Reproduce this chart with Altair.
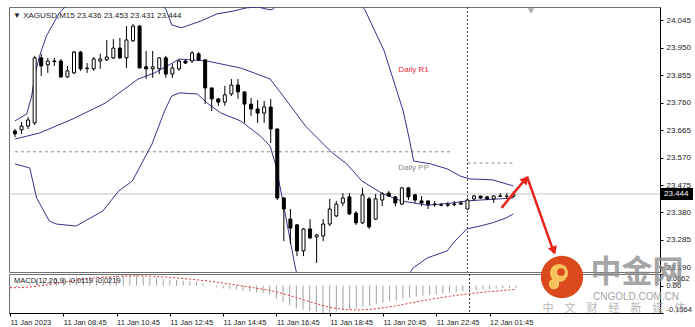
import altair as alt
import pandas as pd

# ---------------- data ----------------
opens  = [23.662,23.666,23.679,23.690,23.915,23.891,23.904,23.904,23.849,23.863,
          23.935,23.880,23.877,23.904,23.908,23.915,23.949,23.915,23.974,24.025,
          23.884,23.877,23.877,23.915,23.859,23.877,23.904,23.904,23.929,23.908,
          23.811,23.773,23.762,23.790,23.821,23.797,23.755,23.738,23.724,23.745,
          23.669,23.430,23.357,23.337,23.247,23.323,23.295,23.299,23.340,23.368,
          23.413,23.434,23.378,23.344,23.427,23.357,23.423,23.447,23.434,23.409,
          23.465,23.441,23.420,23.420,23.409,23.406,23.405,23.407,23.413,23.392,
          23.427,23.437,23.434,23.427,23.437,23.436,23.436]
highs  = [23.669,23.693,23.710,23.922,23.929,23.915,23.915,23.911,23.887,23.939,
          23.939,23.897,23.918,23.929,23.977,23.980,23.984,24.025,24.032,24.029,
          23.939,23.939,23.918,23.922,23.894,23.911,23.908,23.939,23.935,23.911,
          23.811,23.776,23.818,23.842,23.842,23.800,23.776,23.769,23.766,23.773,
          23.669,23.434,23.392,23.340,23.326,23.357,23.306,23.357,23.427,23.420,
          23.447,23.447,23.385,23.465,23.434,23.444,23.451,23.454,23.437,23.468,
          23.468,23.444,23.437,23.420,23.420,23.413,23.416,23.420,23.420,23.430,
          23.441,23.437,23.437,23.440,23.447,23.447,23.453]
lows   = [23.641,23.652,23.669,23.683,23.852,23.863,23.887,23.846,23.846,23.859,
          23.870,23.863,23.870,23.877,23.904,23.911,23.911,23.880,23.970,23.880,
          23.842,23.846,23.859,23.846,23.846,23.870,23.894,23.897,23.904,23.755,
          23.731,23.749,23.749,23.783,23.773,23.690,23.714,23.690,23.690,23.620,
          23.423,23.281,23.271,23.229,23.229,23.288,23.205,23.281,23.333,23.364,
          23.402,23.371,23.337,23.340,23.323,23.354,23.402,23.434,23.402,23.406,
          23.423,23.413,23.402,23.392,23.399,23.402,23.399,23.402,23.406,23.389,
          23.420,23.427,23.423,23.413,23.434,23.427,23.431]
closes = [23.652,23.679,23.700,23.915,23.887,23.904,23.902,23.849,23.870,23.935,
          23.877,23.878,23.911,23.911,23.918,23.949,23.915,23.977,24.025,23.880,
          23.877,23.884,23.915,23.859,23.880,23.904,23.897,23.932,23.908,23.811,
          23.773,23.762,23.787,23.821,23.797,23.755,23.738,23.724,23.745,23.669,
          23.430,23.392,23.326,23.247,23.323,23.292,23.302,23.340,23.392,23.409,
          23.430,23.375,23.344,23.441,23.330,23.427,23.444,23.437,23.413,23.465,
          23.434,23.423,23.413,23.408,23.408,23.405,23.407,23.409,23.409,23.423,
          23.437,23.430,23.427,23.437,23.436,23.436,23.444]

# Bollinger bands (bar index, price) vertices
upper_idx = [0,1.8,2.55,3.0,3.75,4.8,6.75,10,15.3,19.8,23.0,23.9,25.4,28.4,30.8,33.3,35.3,37,38.9,39.4,
             44,48.4,53.3,56.3,59.2,60.1,60.8,63.4,65.9,67.9,69.4,72.8,74.9,76]
upper_val = [23.697,23.721,23.783,23.852,23.922,23.991,24.070,24.147,24.181,24.147,24.084,24.029,24.019,
             24.043,24.067,24.077,24.088,24.091,24.081,24.084,24.216,24.181,24.084,23.939,23.731,23.638,
             23.558,23.548,23.531,23.506,23.496,23.493,23.479,23.472]
mid_idx = [0,3.75,8.86,13.8,18.8,21.3,25.1,29.3,34.4,38.9,40.9,44.3,48.4,50.6,52.9,55.9,58.9,60.8,
           62.9,66.8,68.9,70.9,76]
mid_val = [23.634,23.655,23.704,23.759,23.842,23.863,23.911,23.904,23.880,23.842,23.783,23.679,23.586,
           23.548,23.489,23.447,23.420,23.413,23.405,23.413,23.420,23.423,23.430]
lower_idx = [0,2.25,3.3,5.25,6.3,9.3,13.4,15.8,17.9,20.9,22.8,23.9,25.1,27.8,29.3,31.4,34.4,37.4,38.9,
             39.8,40.9,42.7,43.9,48.4,54.4,58.9,60.7,62.9,65.9,67.1,68.9,70.9,72.8,74.9,76]
lower_val = [23.548,23.534,23.430,23.350,23.340,23.333,23.385,23.454,23.489,23.617,23.731,23.783,23.794,
             23.790,23.759,23.724,23.697,23.645,23.610,23.541,23.413,23.195,23.074,22.970,23.004,23.126,
             23.188,23.223,23.247,23.281,23.323,23.333,23.344,23.361,23.375]

# MACD main (histogram) and signal, read per bar
macd_hist = [-0.010,-0.008,-0.004,0.014,0.026,0.034,0.040,0.041,0.042,0.047,
             0.048,0.048,0.050,0.051,0.052,0.055,0.056,0.059,0.0662,0.058,
             0.052,0.047,0.044,0.038,0.034,0.031,0.027,0.026,0.023,0.012,
             0.000,-0.010,-0.016,-0.018,-0.022,-0.028,-0.034,-0.039,-0.042,-0.050,
             -0.075,-0.094,-0.112,-0.130,-0.138,-0.146,-0.152,-0.1564,-0.153,-0.147,
             -0.139,-0.136,-0.132,-0.120,-0.116,-0.107,-0.098,-0.090,-0.084,-0.074,
             -0.068,-0.062,-0.057,-0.052,-0.048,-0.044,-0.040,-0.036,-0.033,-0.029,
             -0.025,-0.022,-0.020,-0.017,-0.015,-0.013,-0.0119]
macd_signal = [-0.012,-0.012,-0.011,-0.008,-0.004,0.001,0.007,0.013,0.019,0.025,
               0.031,0.036,0.041,0.045,0.048,0.050,0.052,0.054,0.056,0.056,
               0.055,0.054,0.052,0.050,0.047,0.044,0.040,0.037,0.033,0.029,
               0.025,0.020,0.014,0.009,0.003,-0.003,-0.009,-0.015,-0.021,-0.027,
               -0.036,-0.046,-0.057,-0.068,-0.080,-0.092,-0.103,-0.114,-0.123,-0.130,
               -0.135,-0.138,-0.139,-0.138,-0.136,-0.132,-0.127,-0.121,-0.115,-0.108,
               -0.100,-0.093,-0.086,-0.079,-0.073,-0.067,-0.061,-0.056,-0.051,-0.046,
               -0.042,-0.038,-0.034,-0.031,-0.028,-0.025,-0.0219]

tick_idx = [0, 8, 16, 24, 32, 40, 48, 56, 64, 72]
tick_labels = ["11 Jan 2023", "11 Jan 08:45", "11 Jan 10:45", "11 Jan 12:45", "11 Jan 14:45",
               "11 Jan 16:45", "11 Jan 18:45", "11 Jan 20:45", "11 Jan 22:45", "12 Jan 01:45"]
price_ticks = [24.045, 23.950, 23.855, 23.760, 23.665, 23.570, 23.475, 23.380, 23.285, 23.190]
macd_ticks = [0.0662, 0.0, -0.1564]
macd_tick_labels = ["0.0662", "0.00", "-0.1564"]

pp_old = 23.590
pp_new = 23.551
day_sep = 69
arrow1_idx = [74.2, 78.1]
arrow1_val = [23.396, 23.503]
arrow2_idx = [78.1, 82.2]
arrow2_val = [23.503, 23.240]

# ---------------- layout ----------------
W = 651
H_MAIN = 265
H_MACD = 39
X_DOM = [-0.15, 97.6]
Y_DOM = [23.174, 24.091]
M_DOM = [-0.1564, 0.0662]
FONT = "Liberation Sans"
CJK = "Noto Sans CJK SC"

xs = alt.Scale(domain=X_DOM, nice=False, zero=False)
ys = alt.Scale(domain=Y_DOM, nice=False, zero=False)
ms = alt.Scale(domain=M_DOM, nice=False, zero=False)

yax = alt.Axis(orient="right", values=price_ticks, format=".3f", tickSize=3, labelFontSize=8,
               labelColor="#222", domainColor="black", tickColor="black", grid=False, title=None,
               labelPadding=3, labelFont=FONT)
label_expr = " : ".join(f"datum.value == {v} ? '{t}'" for v, t in zip(tick_idx, tick_labels)) + " : ''"
mlabel_expr = " : ".join(f"abs(datum.value - ({v})) < 1e-6 ? '{t}'"
                         for v, t in zip(macd_ticks, macd_tick_labels)) + " : ''"
xax = alt.Axis(values=tick_idx, labelExpr=label_expr, labelAlign="left", labelFontSize=7.5,
               labelFont=FONT, labelColor="#222", tickSize=3, labelPadding=2, domainColor="black",
               tickColor="black", grid=False, title=None, labelOverlap=False, labelBound=False,
               labelFlush=False)
max_ = alt.Axis(orient="right", values=macd_ticks, labelExpr=mlabel_expr, tickSize=3,
                labelFontSize=7.5, labelFont=FONT, labelColor="#222", domainColor="black",
                tickColor="black", grid=False, title=None, labelPadding=3, labelOverlap=False,
                labelFlush=True)


def X(f):
    return alt.X(f, scale=xs, axis=None)


def Y(f):
    return alt.Y(f, scale=ys, axis=yax)


n = len(opens)
candles = pd.DataFrame({"idx": list(range(n)), "o": opens, "h": highs, "l": lows, "c": closes})

wicks = alt.Chart(candles).mark_rule(color="black", strokeWidth=1).encode(
    x=X("idx:Q"), y=Y("l:Q"), y2="h:Q")
bodies = alt.Chart(candles).mark_bar(size=3, stroke="black", strokeWidth=1).encode(
    x=X("idx:Q"), y=Y("o:Q"), y2="c:Q",
    fill=alt.condition("datum.c >= datum.o", alt.value("white"), alt.value("black")))


def band(ix, vals):
    d = pd.DataFrame({"idx": ix, "v": vals})
    return alt.Chart(d).mark_line(color="#33338a", strokeWidth=1, clip=True).encode(
        x=X("idx:Q"), y=Y("v:Q"))


last = candles.iloc[-1]
cur = pd.DataFrame({"p": [last.c], "lab": [f"{last.c:.3f}"]})
cur_line = alt.Chart(cur).mark_rule(color="#c4c4c4", strokeWidth=1).encode(
    y=Y("p:Q"), x=alt.value(0), x2=alt.value(W))
tag = alt.Chart(cur).mark_rect(color="black", yOffset=-6, y2Offset=6).encode(
    y=Y("p:Q"), y2="p:Q", x=alt.value(W + 1), x2=alt.value(W + 33))
tag_text = alt.Chart(cur).mark_text(color="white", align="left", baseline="middle", fontSize=8,
                                    font=FONT).encode(y=Y("p:Q"), x=alt.value(W + 4), text="lab:N")

pp = pd.DataFrame({"x0": [0, day_sep], "x1": [66.8, 76], "p": [pp_old, pp_new]})
pp_lines = alt.Chart(pp).mark_rule(color="#8a8a8a", strokeDash=[3, 3], strokeWidth=1).encode(
    x=X("x0:Q"), x2="x1:Q", y=Y("p:Q"))

sep = pd.DataFrame({"idx": [day_sep]})
sep_main = alt.Chart(sep).mark_rule(color="#404040", strokeDash=[2, 2], strokeWidth=1).encode(
    x=X("idx:Q"), y=alt.value(0), y2=alt.value(H_MAIN))

labels = pd.DataFrame({"idx": [60.8, 60.8], "p": [23.873, 23.534], "t": ["Daily R1", "Daily PP"],
                       "col": ["#f0283a", "#8a8a8a"]})
level_text = alt.Chart(labels).mark_text(fontSize=8, font=FONT).encode(
    x=X("idx:Q"), y=Y("p:Q"), text="t:N", color=alt.Color("col:N", scale=None))

title_df = pd.DataFrame({"t": [f"\u25bc XAGUSD,M15  {last.o:.3f} {last.h:.3f} {last.l:.3f} {last.c:.3f}"]})
title = alt.Chart(title_df).mark_text(align="left", baseline="middle", fontSize=8, font=FONT,
                                      color="#222").encode(x=alt.value(4), y=alt.value(9), text="t:N")

shift_mark = alt.Chart(title_df).mark_point(shape="triangle-down", filled=True, color="#a8a8a8",
                                            size=40, opacity=1).encode(x=alt.value(522), y=alt.value(4))

arr = pd.DataFrame({"idx": arrow1_idx + arrow2_idx, "v": arrow1_val + arrow2_val,
                    "seg": ["a", "a", "b", "b"]})
arrows = alt.Chart(arr).mark_line(color="#e8221c", strokeWidth=2.5).encode(
    x=X("idx:Q"), y=Y("v:Q"), detail="seg:N")
heads = pd.DataFrame({"idx": [arrow1_idx[1] - 0.35, arrow2_idx[1] - 0.1],
                      "v": [arrow1_val[1] - 0.012, arrow2_val[1] + 0.012], "ang": [40, 160]})
arrow_heads = alt.Chart(heads).mark_point(shape="triangle", filled=True, color="#e8221c", size=90,
                                          opacity=1).encode(
    x=X("idx:Q"), y=Y("v:Q"), angle=alt.Angle("ang:Q", scale=None))

main = alt.layer(cur_line, pp_lines, sep_main, band(upper_idx, upper_val), band(mid_idx, mid_val),
                 band(lower_idx, lower_val), wicks, bodies, level_text, arrows, arrow_heads,
                 tag, tag_text, title, shift_mark).properties(width=W, height=H_MAIN)

# ---------------- MACD panel ----------------
macd = pd.DataFrame({"idx": list(range(n)), "h": macd_hist, "s": macd_signal, "z": [0.0] * n})


def MX(f):
    return alt.X(f, scale=xs, axis=xax)


def MY(f):
    return alt.Y(f, scale=ms, axis=max_)


hist = alt.Chart(macd).mark_rule(color="#a0a0a0", strokeWidth=1).encode(
    x=MX("idx:Q"), y=MY("z:Q"), y2="h:Q")
signal = alt.Chart(macd).mark_line(color="#e0303a", strokeWidth=1, strokeDash=[2, 2]).encode(
    x=MX("idx:Q"), y=MY("s:Q"))
sep_macd = alt.Chart(sep).mark_rule(color="#404040", strokeDash=[2, 2], strokeWidth=1).encode(
    x=MX("idx:Q"), y=alt.value(0), y2=alt.value(H_MACD))
mtitle_df = pd.DataFrame({"t": [f"MACD(12,26,9) {macd_hist[-1]:.4f} {macd_signal[-1]:.4f}"]})
mtitle = alt.Chart(mtitle_df).mark_text(align="left", baseline="middle", fontSize=7.5, font=FONT,
                                        color="#222").encode(x=alt.value(5), y=alt.value(7), text="t:N")

# watermark (decoration)
wm = pd.DataFrame({"a": [1]})
logo_outer = alt.Chart(wm).mark_point(shape="circle", filled=True, color="#da4a1c", size=1800,
                                      opacity=1).encode(x=alt.value(553), y=alt.value(3))
logo_inner = alt.Chart(wm).mark_point(shape="circle", filled=True, color="#f6c35c", size=330,
                                      opacity=1).encode(x=alt.value(550), y=alt.value(-1))
logo_tail = alt.Chart(wm).mark_point(shape="circle", filled=True, color="#f6c35c", size=110,
                                     opacity=1).encode(x=alt.value(545), y=alt.value(10))
logo_dot = alt.Chart(wm).mark_point(shape="circle", filled=True, color="#da4a1c", size=60,
                                    opacity=1).encode(x=alt.value(552), y=alt.value(-2))
wm_big = alt.Chart(wm).mark_text(text="中金网", fontSize=31, fontWeight="bold", font=CJK,
                                 color="#8c8c8c", opacity=0.78).encode(x=alt.value(628), y=alt.value(-1))
wm_en = alt.Chart(wm).mark_text(text="CNGOLD.COM.CN", fontSize=10, font=FONT, color="#9a9a9a",
                                opacity=0.9).encode(x=alt.value(627), y=alt.value(23))
wm_cn = alt.Chart(wm).mark_text(text="中　文　财　经　新　媒　体", fontSize=11, font=CJK,
                                color="#b0b0b0", opacity=0.9).encode(x=alt.value(605), y=alt.value(35))

macd_panel = alt.layer(hist, signal, sep_macd, mtitle, logo_outer, logo_inner, logo_tail, logo_dot,
                       wm_big, wm_en, wm_cn).properties(width=W, height=H_MACD)

chart = alt.vconcat(main, macd_panel, spacing=2, bounds="flush").properties(
    padding={"left": 7, "top": 6, "right": 0, "bottom": 0},
    background="white"
).configure_view(stroke="#707070", strokeWidth=1)

chart.save("out.html", embed_options={"renderer": "svg", "actions": False})
